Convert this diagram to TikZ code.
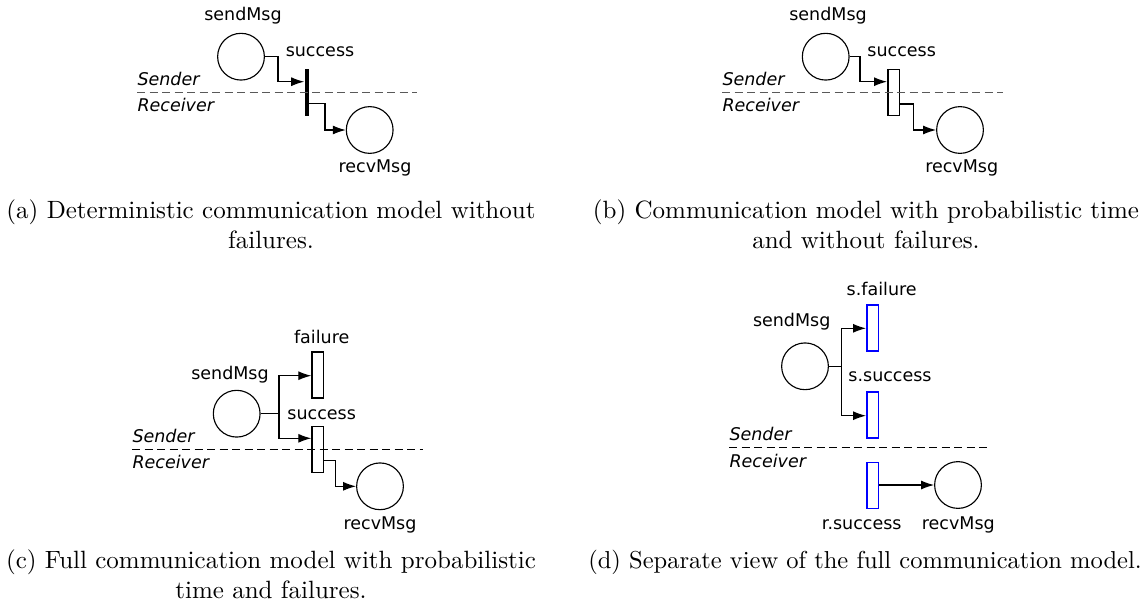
\documentclass[tikz,border=0pt]{standalone}
\usepackage{fontspec}
\newfontfamily\lblfont{DejaVu Sans}
\usepackage{tikz}
\usetikzlibrary{arrows.meta,positioning}

\begin{document}
\begin{tikzpicture}[
  x=0.4pt, y=-0.4pt,
  every node/.style={font=\lblfont\fontsize{7}{8.4}\selectfont, inner sep=0pt},
  place/.style={circle, draw, line width=0.45pt, minimum size=18.7pt},
  trans/.style={rectangle, draw, line width=0.6pt, minimum width=4.6pt, minimum height=18.4pt},
  bar/.style={rectangle, fill=black, minimum width=1.6pt, minimum height=18.6pt},
  btrans/.style={trans, draw=blue},
  lane/.style={font=\lblfont\itshape\fontsize{7}{8.4}\selectfont, anchor=west},
  divider/.style={dashed, dash pattern=on 3.2pt off 1.8pt, line width=0.4pt},
  conn/.style={line width=0.45pt},
  >={Latex[length=5.2pt,width=3.6pt]},
  capt/.style={font=\rmfamily\fontsize{10}{12}\selectfont, align=center}
]
\useasboundingbox (0,0) rectangle (1143,600);

% (a) deterministic, no failures
\node[place] (sa) at (241,56.7) {};
\node (sal) at (243,16) {sendMsg};
\node[bar] (ta) at (306.7,92.4) {};
\node (tal) at (320,52) {success};
\node[place] (ra) at (369.7,130) {};
\node (ral) at (375,168) {recvMsg};
\node[lane] (sda) at (137,79) {Sender};
\node[lane] (rca) at (137,105) {Receiver};
\coordinate (a1) at (278,81.7);
\coordinate (a2) at (325,103.3);
\draw[divider, black!65] (sda.west |- 0,92.3) -- (417,92.3);
\draw[conn,->] (sa.east) -| (a1) -- (a1 -| ta.west);
\draw[conn,->] (a2 -| ta.east) -- (a2) |- (ra.west);

% (b) probabilistic time, no failures
\node[place] (sb) at (825.7,56.7) {};
\node (sbl) at (828,16) {sendMsg};
\node[trans] (tb) at (893.5,92.5) {};
\node (tbl) at (901.7,52) {success};
\node[place] (rb) at (960,130) {};
\node (rbl) at (961.7,168) {recvMsg};
\node[lane] (sdb) at (722,79) {Sender};
\node[lane] (rcb) at (722,105) {Receiver};
\coordinate (b1) at (860,81.7);
\coordinate (b2) at (913.3,104);
\draw[divider, black!65] (sdb.west |- 0,92.3) -- (1003,92.3);
\draw[conn,->] (sb.east) -| (b1) -- (b1 -| tb.west);
\draw[conn,->] (b2 -| tb.east) -- (b2) |- (rb.west);

\node[capt] (capa) at (271,224) {(a) Deterministic communication model without\\failures.};
\node[capt] (capb) at (866,224) {(b) Communication model with probabilistic time\\and without failures.};

% (c) probabilistic time with failures
\node[place] (sc) at (236.7,413.7) {};
\node (scl) at (230,374.3) {sendMsg};
\node[trans] (fc) at (317.8,375) {};
\node (fcl) at (321.7,336.7) {failure};
\node[trans] (tc) at (317.8,449.5) {};
\node (tcl) at (321.7,415) {success};
\node[place] (rc) at (380,486.3) {};
\node (rcl) at (380,525) {recvMsg};
\node[lane] (sdc) at (132,435.7) {Sender};
\node[lane] (rcc) at (132,462.3) {Receiver};
\coordinate (c0) at (279,413.7);
\coordinate (c1) at (279,375.7);
\coordinate (c2) at (279,438.3);
\coordinate (c3) at (335.7,460.7);
\draw[divider] (sdc.west |- 0,449.3) -- (423,449.3);
\draw[conn] (sc.east) -- (c0);
\draw[conn,->] (c0) -- (c1) -- (c1 -| fc.west);
\draw[conn,->] (c0) -- (c2) -- (c2 -| tc.west);
\draw[conn,->] (c3 -| tc.east) -- (c3) |- (rc.west);

% (d) separate view
\node[place] (sd) at (805,366.3) {};
\node (sdl) at (791.7,321.7) {sendMsg};
\node[btrans] (fd) at (872.5,328) {};
\node (fdl) at (881.7,289.3) {s.failure};
\node[btrans] (td) at (872.5,415.2) {};
\node (tdl) at (890,376.7) {s.success};
\node[btrans] (ud) at (872.5,485.3) {};
\node (udl) at (861.7,525) {r.success};
\node[place] (rd) at (958,485) {};
\node (rdl) at (958.3,525) {recvMsg};
\node[lane] (sdd) at (729,434.3) {Sender};
\node[lane] (rcd) at (729,461) {Receiver};
\coordinate (d0) at (841.7,366.3);
\coordinate (d1) at (841.7,328.3);
\coordinate (d2) at (841.7,415.7);
\draw[divider] (sdd.west |- 0,447.7) -- (986.7,447.7);
\draw[conn] (sd.east) -- (d0);
\draw[conn,->] (d0) -- (d1) -- (d1 -| fd.west);
\draw[conn,->] (d0) -- (d2) -- (d2 -| td.west);
\draw[conn,->] (ud.east |- rd.west) -- (rd.west);

\node[capt] (capc) at (271,574) {(c) Full communication model with probabilistic\\time and failures.};
\node[capt, font=\rmfamily\fontsize{9.8}{12}\selectfont] (capd) at (865,562) {(d) Separate view of the full communication model.};
\end{tikzpicture}
\end{document}
